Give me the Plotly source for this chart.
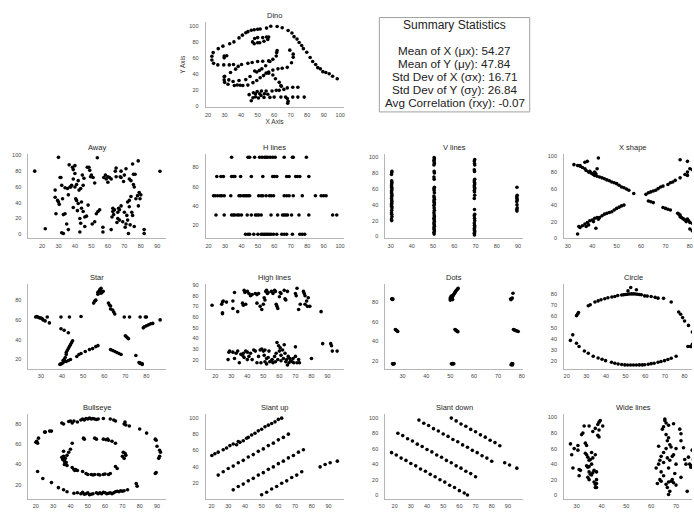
import plotly.graph_objects as go

W, H = 694, 512

dino = [(55.3846,97.1795),(51.5385,96.0256),(46.1538,94.4872),(42.8205,91.4103),(40.7692,88.3333),(38.7179,84.8718),(35.641,79.8718),(33.0769,77.5641),(28.9744,74.4872),(26.1538,71.4103),(23.0769,66.4103),(22.3077,61.7949),(22.3077,57.1795),(23.3333,52.9487),(25.8974,51.0256),(29.4872,51.0256),(32.8205,51.0256),(35.3846,51.4103),(40.2564,51.4103),(44.1026,52.9487),(46.6667,54.1026),(50.0,55.2564),(53.0769,55.641),(56.6667,56.0256),(59.2308,57.9487),(61.2821,62.1795),(61.5385,66.4103),(61.7949,69.1026),(57.4359,55.2564),(54.8718,49.8718),(52.5641,46.0256),(48.2051,43.3333),(49.4872,42.1795),(51.0256,44.1026),(45.3846,36.4103),(42.8205,32.5641),(38.7179,31.4103),(35.1282,30.2564),(32.5641,32.1795),(30.0,36.7949),(33.5897,41.4103),(36.6667,45.641),(38.2051,49.1026),(29.7436,36.0256),(29.7436,32.1795),(30.0,29.1026),(32.0513,26.7949),(35.8974,25.2564),(41.0256,25.2564),(44.1026,25.641),(47.1795,28.718),(49.4872,31.4103),(51.5385,34.8718),(53.5897,37.5641),(55.1282,40.641),(56.6667,42.1795),(59.2308,44.4872),(62.3077,46.0256),(64.8718,46.7949),(67.9487,47.9487),(70.5128,53.718),(71.5385,60.641),(71.5385,64.4872),(69.4872,69.4872),(46.9231,79.8718),(48.2051,84.1026),(50.0,85.2564),(53.0769,85.2564),(55.3846,86.0256),(56.6667,86.0256),(56.1538,82.9487),(53.8462,80.641),(51.2821,78.718),(50.0,78.718),(47.9487,77.5641),(29.7436,59.8718),(29.7436,62.1795),(31.2821,62.5641),(57.9487,99.4872),(61.7949,99.1026),(64.8718,97.5641),(68.4615,94.1026),(70.7692,91.0256),(72.0513,86.4103),(73.8462,83.3333),(75.1282,79.1026),(76.6667,75.2564),(77.6923,71.4103),(79.7436,66.7949),(81.7949,60.2564),(83.3333,55.2564),(85.1282,51.4103),(86.4103,47.5641),(87.9487,46.0256),(89.4872,42.5641),(93.3333,39.8718),(95.3846,36.7949),(98.2051,33.718),(56.6667,40.641),(59.2308,38.3333),(60.7692,33.718),(63.0769,29.1026),(64.1026,25.2564),(64.359,24.1026),(74.359,22.9487),(71.2821,22.9487),(67.9487,22.1795),(65.8974,20.2564),(63.0769,19.1026),(61.2821,19.1026),(58.7179,18.3333),(55.1282,18.3333),(52.3077,18.3333),(49.7436,17.5641),(47.4359,16.0256),(44.8718,13.7179),(48.7179,14.8718),(51.2821,14.8718),(54.1026,14.8718),(56.1538,14.1026),(52.0513,12.5641),(48.7179,11.0256),(47.1795,9.8718),(46.1538,6.0256),(50.5128,9.4872),(53.8462,10.2564),(57.4359,10.2564),(60.0,10.641),(64.1026,10.641),(66.9231,10.641),(71.2821,10.641),(74.359,10.641),(78.2051,10.641),(67.9487,8.7179),(68.4615,5.2564),(68.2051,2.9487),(37.6923,25.7692),(39.4872,25.3846),(91.2821,41.5385),(50.0,95.7692),(47.9487,95.0),(44.1026,92.6923)]

away = [(15.6,80),(91.6,79.9),(22,7),(30,97.5),(53.6,97),(78.4,93),(28,56),(28,47),(28.5,26),(29.5,43),(30,41),(30.5,38),(31,72),(31.5,72),(32,62),(32.5,45),(32,2),(33,1),(33,25),(34,26),(34,59),(35,13),(35.5,58),(36,6),(36,50),(36.5,88),(37,60),(37.5,60),(38,62),(38.5,85),(39,82),(39,70),(39,34),(40,87),(40,77),(40,60),(40.5,45),(41,43),(41,63),(41.5,30),(42,39),(42,68),(42.5,56),(43,3),(43,20),(43.5,14),(43.5,58),(44,33),(44,41),(44.5,75),(45,62),(45,29),(45.5,71),(46,22),(46,10),(47,23),(47.5,85),(48,37),(48.5,85),(49,81),(49.5,73),(50,75),(51,72),(50.5,13),(52,16),(52,65),(53,26),(54,29),(55,31),(57,9),(57,3),(57.5,72),(58.5,75),(59,70),(60,73),(60,66),(61,72),(62,6),(62.5,22),(63,29),(63,33),(63.5,25),(64,31),(64.5,80),(65,84),(65,73),(65.5,15),(66,28),(66,20),(66.5,33),(67,18),(67,31),(67.5,73),(68,36),(68,80),(69,16),(69.5,67),(70,75),(70,28),(70.5,9),(71,83),(71,13),(71.5,24),(72,41),(72,18),(72.5,1),(73,43),(73,35),(73.5,12),(74,68),(74,48),(74.5,28),(75,24),(75,89),(75.5,76),(75.5,63),(76,60),(76.5,76),(76,10),(77,45),(78,49),(78.5,36),(79,53),(79.5,45),(80,50),(82,6),(82,1),(73,70),(68,72),(62,70)]

h_lines = [(34,90.5),(44,90.5),(45,90.5),(48,90.5),(51,90.5),(52.5,90.5),(54,90.5),(55,90.5),(56,90.5),(57.5,90.5),(59,90.5),(60.5,90.5),(66,90.5),(71,90.5),(71.5,90.5),(79.5,90.5),
    (25,70.5),(27.5,70.5),(29,70.5),(34,70.5),(35,70.5),(36,70.5),(39.5,70.5),(46,70.5),(53,70.5),(59,70.5),(60,70.5),(61.5,70.5),(67.5,70.5),(69,70.5),(73,70.5),(74,70.5),(75.5,70.5),(81,70.5),
    (23,50.5),(24,50.5),(25.5,50.5),(27,50.5),(28,50.5),(29.5,50.5),(33.5,50.5),(38.5,50.5),(39.5,50.5),(41,50.5),(42,50.5),(43,50.5),(44,50.5),(45,50.5),(50.5,50.5),(52,50.5),(53,50.5),(55,50.5),(57,50.5),(58,50.5),(59.5,50.5),(66,50.5),(67.5,50.5),(69,50.5),(71.5,50.5),(77,50.5),(85,50.5),(88.5,50.5),(90,50.5),(91.5,50.5),
    (24.5,30.5),(29.5,30.5),(34,30.5),(35,30.5),(36,30.5),(37.5,30.5),(38.5,30.5),(40,30.5),(43.5,30.5),(46,30.5),(48.5,30.5),(49.5,30.5),(50.5,30.5),(52,30.5),(58,30.5),(62,30.5),(65,30.5),(66,30.5),(67,30.5),(68,30.5),(70.5,30.5),(75,30.5),(81,30.5),(95.5,30.5),(98,30.5),
    (42.5,10.5),(44,10.5),(45,10.5),(47.5,10.5),(50,10.5),(52,10.5),(53,10.5),(54,10.5),(55,10.5),(56,10.5),(57,10.5),(58,10.5),(59.5,10.5),(61.5,10.5),(64.5,10.5),(66,10.5),(67.5,10.5),(71,10.5),(75.5,10.5),(77,10.5),(78.5,10.5)]

v_lines = [(30.5,20),(30.4,22),(30.6,25),(30.5,28),(30.4,30),(30.5,33),(30.6,36),(30.5,38),(30.4,40),(30.5,42),(30.6,44),(30.5,46),(30.4,48),(30.5,50),(30.6,52),(30.5,54),(30.4,56),(30.5,58),(30.6,60),(30.5,62),(30.4,64),(30.5,66),(30.6,68),(30.5,70),(30.4,78),(30.5,80),(30.6,82),
    (50.5,3),(50.4,5),(50.6,7),(50.5,9),(50.4,11),(50.6,13),(50.5,15),(50.4,17),(50.6,19),(50.5,21),(50.4,23),(50.6,25),(50.5,27),(50.4,30),(50.6,33),(50.5,36),(50.4,39),(50.6,41),(50.5,43),(50.4,45),(50.6,47),(50.5,49),(50.4,51),(50.6,55),(50.5,58),(50.4,60),(50.6,62),(50.5,72),(50.4,75),(50.6,80),(50.5,82),(50.4,90),(50.6,92),(50.5,94),(50.4,96),(50.6,98),(50.5,99.5),
    (69.5,2),(69.4,4),(69.6,6),(69.5,8),(69.4,10),(69.6,12),(69.5,14),(69.4,17),(69.6,20),(69.5,23),(69.4,26),(69.6,28),(69.5,34),(69.4,48),(69.6,52),(69.5,56),(69.4,58),(69.6,60),(69.5,62),(69.4,64),(69.6,66),(69.5,68),(69.4,70),(69.6,72),(69.5,82),(69.4,84),(69.6,90),(69.5,92),(69.4,95),(69.6,97),
    (89.5,32),(89.4,34),(89.6,36),(89.5,40),(89.4,44),(89.6,46),(89.5,48),(89.4,50),(89.6,52),(89.5,62)]

x_shape = [(32.5,89),(34,88),(35,87),(36,85.5),(37,84),(37.5,82),(38,93),(38.5,80),(39,81),(39.5,79),(40,78),(40.5,77),(41,76),(41,80),(41.5,78),(42,75),(42,84),(42.5,97),(43,74),(44,73),(45,72),(46,70.5),(47,69.5),(48,68),(49,67),(50,66),(51,64),(52,62),(53,61),(54,59.5),(55,58),(57,54),
    (63,45),(64,44),(65,43),(69,37),(70,36),(71,35),(72,34),(75,30),(75.5,29),(76,28),(76,26),(76.5,25),(77,24),(77.5,23),(78,22),(78.5,20),(79,23),(79.5,21),(80,19),(81,18),(82,17),(80,11),(81,9),(83,10),(84,8),(37,92),(35,88),
    (34,5),(34.5,14),(35,13),(36,15),(37,17),(37.5,14),(38,19),(38.5,16),(39,21),(40,22),(40.5,20),(41,24),(41.5,12),(42,25),(42.5,23),(43,25),(44,27),(45,29),(46,30),(47,31),(48,32),(49,34),(50,36),(51,37.5),(52,39),(53,40),
    (62,53),(63,55),(64,56),(65,57),(66,58),(67,60),(68,62),(69,63),(71,65),(72,67),(73,68),(74,70),(76,73),(78,77),(79,80),(80,84),(81,83),(82,86),(76,95),(79,93),(79,76)]

star = [(27.5,63),(28,63.5),(28.5,63),(29,62.5),(29.5,62),(30,62),(30.5,61.5),(31,60),(32,59),(34,57),(33,63),
    (39.5,63),(43.5,63),(49,63.5),(69.5,63),(72,63),(77,63),(79.5,63),(80,63),
    (39.5,51),(41,49.5),(43,47),
    (39,15),(39.5,15.5),(40,16),(40.5,17),(41,18),(41,20),(41.5,22),(42,25),(42,27),(42.5,29),(43,31),(43.5,33),(44,35),(44.5,37),(45,39),(40.5,19),(42,18),(43,19),(44,20),
    (47,23),(48,25),(49,26),(51,28),(53,30),(54.5,31),(56,33),(57,34),
    (55,77),(55.5,79),(56,80),(57,86),(57,88),(57.5,89),(58,90),(58,91),(58.5,92),(59,88),(59.5,89),(58.5,87),
    (62,77),(62.5,75),(63,74),(63,71),(64,70),(64.5,68),(65,66),
    (70,44),(70.5,43),(71,42),(71.5,41),
    (63,30),(64,29),(65,28),(66,27),(67,26),(68,25),(75,24),(76.5,17),(77,16.5),(77.5,16),(78,15.5),(78,15),(77,16),
    (78.5,52),(79,53),(80,54),(81,55),(82,56),(83,56.5),(86.5,60)]

high_lines = [(18,71),(24,72),(24.5,74),(25,75),(27,74),(24.5,64),(24.5,63),(31,75),(31,68),(32,83),(34,65),(37,73),(37.5,71),(38,85),(38.5,83),(39,72),(40,84),(41,82),(42,80),(43,81),(45,82),(46,81),(47,82),(46,73),(48,70),(49,67),(50,72),(50.5,78),(51,76),(51.5,84),(52,85),(52.5,82),(53,83),(55,84),(56,82),(57,85),(57.5,84),(58,72),(58.5,70),(59,68),(60,79),(60.5,83),(61,82),(63,85),(63.5,77),(64,76),(65,84),(70,82),(70.5,80),(71,87),(72,67),(73,72),(75,84),(75.5,82),(76,80),(76,72),(77,75),(77.5,70),(78,78),(79,70),(86,65),
    (28,20),(28.5,27),(29,28),(31,27),(32,21),(33,26),(34,28),(35,17),(36,25),(37,24),(37.5,26),(38,22),(39,28),(40,27),(40,20),(41,23),(42,26),(43,20),(44,29),(45,28),(46,17),(47,23),(48,29),(48.5,17),(49,30),(50,28),(50.5,24),(51,29),(51,18),(52,21),(52,16),(53,22),(53.5,28),(54,18),(55,19),(55.5,20),(56,17),(57,23),(57.5,18),(58,26),(58.5,36),(59,20),(59.5,33),(60,28),(60.5,31),(61,24),(61,19),(62,29),(62.5,21),(63,34),(63.5,26),(64,18),(64.5,20),(65,15),(65.5,23),(66,17),(66.5,21),(67,19),(68,18),(68.5,21),(69,17),(70,23),(70,32),(71,17),(72,20),(72.5,17),(80,21),(87,35),(92,35),(92.5,33),(93,28),(96,28)]

dots = [(25.5,83),(25.8,82.7),(25.6,83.3),(26,83),
    (27,52),(27.5,51),(28,50),(27.3,51.5),(27.8,50.5),
    (26,17),(26.5,17.2),(26.2,16.8),(25.8,17),
    (50,82),(50.2,83),(50.5,84),(50.8,85),(51,86),(51.2,87),(51.5,88),(51.8,89),(52,90),(52.3,91),(52.6,92),(53,93),(53.3,94),(50.3,82.5),(50.6,83),(51,82.5),(50,84),(50.4,86),
    (52,52),(52.5,51),(53,50),(52.3,51.5),(52.8,50.5),(53.2,49.8),
    (50.5,17),(51,17.2),(51.5,17),(50.8,16.8),(51.2,17.4),
    (75.5,82.5),(75.8,83.5),(76,84),(75.3,83),(76.3,89),
    (76.5,52),(77,51.5),(77.5,51),(78,50.5),(78.5,50),(77.2,51),
    (75.5,16),(76,16.5),(76.2,17),(75.8,17.3),(76,15.8)]

circle = [(21.9,38.5),(23.1,43.5),(25,60.6),(25.5,62),(26,63.6),(31,69.6),(32,70.5),(34.4,73),(36,74),(37.5,75),(39.4,76),(41,76.8),(43,77.5),(44.5,78),(46,78.8),(48,79.3),(49,79.6),(50,79.8),(51,80),(52,80.2),(53,80.3),(54,80.3),(55,80.2),(56,80),(57,79.8),(58,79.5),(59.7,78.5),(61,78.3),(63,78),(65,77.2),(66.5,76.5),(69.3,76.3),(73.2,73),(77,64),(78,62),(79,59),(80,56),(82,52),(84,46),(85,40),(84,35),(83,33),
    (51.2,83),(52.6,86),(55.5,84),
    (25,36),(26.3,33),(29,29),(31,27),(33.5,24.2),(36,22.7),(38,21.5),(39.8,20.3),(42.8,18.8),(44.5,18),(46.2,17.3),(48,16.8),(49.6,16.5),(51,16.4),(52.5,16.4),(54,16.4),(55.5,16.4),(57,16.5),(58.5,16.5),(59.7,16.6),(61.5,17),(63,17.6),(64.5,18),(66.5,18.8),(68,19.5),(69.8,20.3),(71.5,21.3),(73.2,22.4),(75.7,24.2),(81.7,33)]

bullseye = [(20,62),(20.5,63),(21,61),(21.5,66),(25,72),(25.5,72),(28,73),(29,73),(21,33),(24,26),(29,22),(33,17),(36,15),(38,13),(42,11.5),(44,12),(46,11),(47,12.5),(48,10.5),(49,11),(50,12),(51,10),(52,10.5),(53,11),(55,12),(56,11),(57,12),(58,11),(59,12.5),(60,12),(61,11),(62,11.5),(63,12),(64,11),(65,12),(66,13),(67,13.5),(68,13),(69,14),(70,13.5),(71,14),(73,15),(78,21),(78.5,18.5),(89,31),(89.5,32),(91,46),(91.5,48),(92,52),(91.5,54),(90,58),(89.5,64),(89,65),(84,71),(80,75),(74,78),(72,79),(71,80),(71.5,82),(66,83),(65,84),(63,85),(59,85.5),(56,85),(55,84.5),(54,85),(53,85.5),(52,85),(51,86),(50,85),(49,85.5),(48,84),(47,85),(46,84),(44,82),(42,83),(41,81),(40,83),(39,82.5),(36,80),(35,81),
    (36,53),(36,48),(35,47),(35.5,45),(36.5,43),(37,46),(37,41),(38,39),(36.5,40),(37.5,42),(38,49),(39,52),(40,55),(41,61),(41,37),(42,35),(43,35),(42.5,34),(44,34),(47,33),(49,31),(50,30),(52,30),(53,29.5),(54,30),(56,30),(57,29.5),(59,30),(60,30.5),(62,30),(63,31),(66,38),(67,36),(70,48),(71,46),(70.5,52),(71.5,51),(72,49),(66,61),(64,63),(62,64),(61.5,65),(60.5,64.5),(59,65),(55,65),(54,66),(48,65),(47.5,66)]

slant_up = [(35,67),(37,70),(39,72),(41,75),(42,76),(44,79),(46,81),(48,84),(50,86),(52,89),(54,91),(56,93),(58,95),(60,98),(62,99.5),
    (20.2,54),(22,56),(24,58),(27,61),(29,63),(31,66),(33,68),(36,71),
    (24,30),(27,34),(30,38),(33,41),(36,45),(39,48),(42,52),(45,55),(48,59),(51,62),(54,66),(57,69),(60,73),(63,76),(66,80),
    (33,12),(36,16),(39,19),(42,23),(45,26),(48,30),(51,33),(54,37),(57,40),(60,44),(63,47),(66,51),(69,54),(72,58),(75,61),
    (50,6),(53,9),(56,13),(59,16),(62,20),(65,23),(68,27),(71,30),(74,34),
    (85,40),(88,43),(91,45),(95.3,47)]

slant_down = [(18.1,55),(21,52),(24,48),(27,45),(30,41),(33,38),(36,34),(39,31),(42,27),(45,24),(48,20),(51,17),(54,13),(57,10),(60,6),(63,3),(65,0.3),
    (22,80),(25,77),(28,73),(31,70),(34,66),(37,63),(40,59),(43,56),(46,52),(49,49),(52,45),(55,42),(58,38),(61,35),(64,31),(67,28),(70,24),
    (35,97),(38,93),(41,90),(44,86),(47,83),(50,79),(53,76),(56,72),(59,69),(62,65),(65,62),(68,58),(71,55),(74,51),(77,48),(80,44),
    (55,99.6),(58,96),(61,92),(64,89),(67,85),(70,82),(73,78),(76,75),(79,71),(82,68),(85,64),
    (88,42),(91,39),(95.5,35)]

wide_lines = [(27.5,66),(28,52),(28.5,35),(29,60),(30.5,64),(30.5,58),(31,33),(31,25),(31.5,32),(32,78),(32.5,80),(33,89),(33.5,67),(34,64),(33.5,54),(34,52),(34.5,49),(34,38),(34.5,36),(35,30),(35.5,27),(34.5,23),(35,20),(35,89),(35.5,46),(35,45),(36,55),(36,40),(36.5,29),(37,17),(37.5,14),(37.5,10),(38,10),(37.5,86),(36.5,82),(38.5,91),(39,94),(39.5,96),(39,84),(39,75),(38.5,77),(38,20),(37,32),(38,30),(37.5,52),(36.5,48),(38,15),(40.5,89),(36,26),(35,37),
    (62,35),(62.5,15),(63,63),(63,40),(63.5,45),(63.5,20),(64,50),(64,30),(64,18),(64.5,85),(65,88),(65,55),(65,42),(65,25),(65.5,98),(65.5,96),(66,93),(66,78),(66,60),(66,14),(66.5,70),(66.5,48),(66.5,10),(67,90),(67,74),(67,35),(67,17),(67.5,65),(67.5,45),(67.5,5),(67,1),(68,62),(68,18),(68.5,50),(68.5,20),(69,92),(69,52),(69,16),(69.5,28),(70,40),(70,60),(70,13),(71.5,85),(72,79),(72,70),(72,23),(73,61),(73.5,46),(74,40),(74.5,5),(75,49),(75.5,40),(76,36),(76.5,58),(77,46),(78,31),(76,38),(77.5,20)]

summary_title = "Summary Statistics"
summary_lines = ["Mean of X (\u03bcx): 54.27", "Mean of Y (\u03bcy): 47.84", "Std Dev of X (\u03c3x): 16.71",
                 "Std Dev of Y (\u03c3y): 26.84", "Avg Correlation (r\u0304xy): -0.07"]

# name, data, column, row, x range, y range, x dtick, y dtick
panels = [
    ("Dino", dino, 1, 0, (18.5, 102.0), (-1.88, 104.3), 10, 20),
    ("Away", away, 0, 1, (11.76, 95.44), (-4.86, 102.35), 10, 20),
    ("H lines", h_lines, 1, 1, (18.19, 102.1), (6.46, 94.46), 10, 20),
    ("V lines", v_lines, 2, 1, (27.5, 92.45), (-2.12, 104.5), 10, 20),
    ("X shape", x_shape, 3, 1, (28.45, 84.95), (-0.08, 102.5), 10, 20),
    ("Star", star, 0, 2, (24.05, 89.41), (10.48, 96.1), 10, 20),
    ("High lines", high_lines, 1, 2, (13.98, 99.99), (11.3, 90.76), 10, 10),
    ("Dots", dots, 2, 2, (22.8, 80.6), (11.85, 98.17), 10, 20),
    ("Circle", circle, 3, 2, (18.67, 88.85), (12.9, 89.0), 10, 10),
    ("Bullseye", bullseye, 0, 3, (15.67, 95.36), (5.88, 89.69), 10, 20),
    ("Slant up", slant_up, 1, 3, (16.46, 99.0), (0.95, 104.3), 10, 20),
    ("Slant down", slant_down, 2, 3, (14.24, 99.46), (-4.67, 104.6), 10, 20),
    ("Wide lines", wide_lines, 3, 3, (24.92, 80.44), (-4.73, 104.2), 10, 20),
]

col_left = [27.5, 205.5, 386.0, 565.5]
panel_w = 138.5
row_top = [20.6, 153.0, 285.0, 416.3]
panel_h = 85.5

FONT = "Liberation Sans, Arial, sans-serif"
fig = go.Figure()
annotations = []
layout = {}
for i, (name, data, c, r, xr, yr, dx, dy) in enumerate(panels):
    n = i + 1
    xs = [p[0] for p in data]
    ys = [p[1] for p in data]
    left = col_left[c]
    right = left + panel_w
    xlo, xhi = xr
    if right > W:
        frac = (W - left) / panel_w
        xhi = xlo + frac * (xhi - xlo)
        right_vis = W
    else:
        right_vis = right
    top = row_top[r]
    bot = top + panel_h
    fig.add_trace(go.Scatter(x=xs, y=ys, mode="markers",
                             marker=dict(color="black", size=3.6, line=dict(width=0)),
                             xaxis=f"x{n}", yaxis=f"y{n}", showlegend=False, hoverinfo="skip"))
    axcommon = dict(showgrid=False, zeroline=False, showline=True, linecolor="#b5b5b5", linewidth=1,
                    ticks="", tickfont=dict(size=5.5, color="#444444", family=FONT), fixedrange=True)
    layout[f"xaxis{n}"] = dict(axcommon, domain=[left / W, right_vis / W], range=[xlo, xhi],
                               anchor=f"y{n}", tick0=0, dtick=dx, ticklabelstandoff=2)
    layout[f"yaxis{n}"] = dict(axcommon, domain=[1 - bot / H, 1 - top / H], range=list(yr),
                               anchor=f"x{n}", tick0=0, dtick=dy, ticklabelstandoff=5)
    annotations.append(dict(text=name, x=(left + panel_w / 2) / W, y=1 - (top - 6.5) / H,
                            xref="paper", yref="paper", showarrow=False, xanchor="center", yanchor="middle",
                            font=dict(size=7.5, color="#262626", family=FONT)))
    if name == "Dino":
        layout[f"xaxis{n}"]["title"] = dict(text="X Axis", font=dict(size=6.5, color="#333333", family=FONT), standoff=2)
        layout[f"yaxis{n}"]["title"] = dict(text="Y Axis", font=dict(size=6.5, color="#333333", family=FONT), standoff=3)

# summary box
bx0, bx1, by0, by1 = 380, 531, 15.7, 111
shapes = [dict(type="rect", xref="paper", yref="paper", x0=bx0 / W, x1=bx1 / W, y0=1 - by1 / H, y1=1 - by0 / H,
               line=dict(color="#a0a0a0", width=1), fillcolor="rgba(0,0,0,0)")]
cx = (bx0 + bx1) / 2 / W
annotations.append(dict(text=summary_title, x=cx, y=1 - 23.3 / H, xref="paper", yref="paper", showarrow=False,
                        xanchor="center", yanchor="middle", font=dict(size=12, color="#222222", family=FONT)))
for k, line in enumerate(summary_lines):
    ypx = 49.3 + k * 12.95
    annotations.append(dict(text=line, x=cx, y=1 - ypx / H, xref="paper", yref="paper", showarrow=False,
                            xanchor="center", yanchor="middle",
                            font=dict(size=11.7, color="#222222", family=FONT)))

fig.update_layout(width=W, height=H, margin=dict(l=0, r=0, t=0, b=0), autosize=False,
                  paper_bgcolor="white", plot_bgcolor="white", annotations=annotations, shapes=shapes,
                  font=dict(family=FONT), **layout)
fig.write_html("out.html", config={"displayModeBar": False})
